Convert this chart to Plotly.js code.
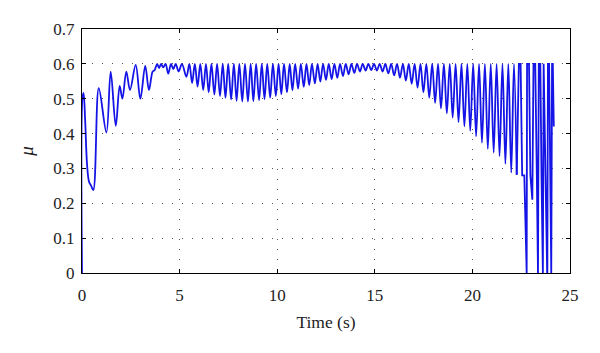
<!DOCTYPE html>
<html>
<head>
<meta charset="utf-8">
<script src="https://cdn.plot.ly/plotly-3.0.1.min.js"></script>
<style>html,body{margin:0;padding:0;background:#fff;}#chart{width:600px;height:353px;}</style>
</head>
<body>
<div id="chart"></div>
<script>
// Start-up transient (s, mu)
var earlyT = [0, 0.02, 0.08, 0.16, 0.26, 0.36, 0.47, 0.58, 0.86, 1.25, 1.47, 1.73, 1.93, 2.07, 2.27, 2.46, 2.75, 2.99, 3.24, 3.43, 3.62, 3.72, 3.85, 3.95, 4.05, 4.16, 4.28, 4.42, 4.56, 4.68, 4.80, 4.95, 5.12];
var earlyMu = [0, 0.50, 0.517, 0.44, 0.31, 0.262, 0.25, 0.238, 0.53, 0.403, 0.578, 0.422, 0.537, 0.50, 0.578, 0.525, 0.597, 0.50, 0.594, 0.525, 0.578, 0.582, 0.60, 0.588, 0.60, 0.59, 0.60, 0.572, 0.60, 0.585, 0.60, 0.578, 0.60];

// Sustained oscillation: alternating troughs and saturated peaks
var oscT = [5.35, 5.50, 5.64, 5.78, 5.92, 6.06, 6.21, 6.35, 6.49, 6.63, 6.78, 6.92, 7.07, 7.21, 7.35, 7.49, 7.64, 7.78, 7.92, 8.06,
  8.21, 8.35, 8.50, 8.64, 8.78, 8.92, 9.07, 9.21, 9.35, 9.49, 9.64, 9.78, 9.93, 10.07, 10.21, 10.35, 10.50, 10.64, 10.78, 10.92,
  11.07, 11.21, 11.36, 11.50, 11.64, 11.78, 11.93, 12.07, 12.21, 12.35, 12.50, 12.64, 12.79, 12.93, 13.08, 13.22, 13.37, 13.51, 13.66, 13.80,
  13.95, 14.09, 14.24, 14.38, 14.53, 14.67, 14.82, 14.96, 15.11, 15.25, 15.40, 15.54, 15.69, 15.84, 15.99, 16.14, 16.29, 16.44, 16.59, 16.74,
  16.89, 17.04, 17.19, 17.34, 17.49, 17.64, 17.79, 17.94, 18.09, 18.24, 18.39, 18.54, 18.69, 18.84, 18.99, 19.14, 19.29, 19.44, 19.59, 19.74,
  19.89, 20.04, 20.19, 20.34, 20.49, 20.64, 20.79, 20.94, 21.09, 21.24, 21.39, 21.54, 21.69, 21.84, 21.99, 22.13, 22.27];
var oscMu = [0.563, 0.60, 0.545, 0.60, 0.535, 0.60, 0.525, 0.60, 0.518, 0.60, 0.512, 0.60, 0.508, 0.60, 0.503, 0.60, 0.498, 0.60, 0.494, 0.60,
  0.492, 0.60, 0.492, 0.60, 0.493, 0.60, 0.496, 0.60, 0.499, 0.60, 0.503, 0.60, 0.508, 0.60, 0.513, 0.60, 0.518, 0.60, 0.524, 0.60,
  0.529, 0.60, 0.534, 0.60, 0.539, 0.60, 0.544, 0.60, 0.549, 0.60, 0.554, 0.60, 0.556, 0.60, 0.560, 0.60, 0.565, 0.60, 0.570, 0.60,
  0.574, 0.60, 0.578, 0.60, 0.581, 0.60, 0.582, 0.60, 0.581, 0.60, 0.578, 0.60, 0.573, 0.60, 0.567, 0.60, 0.560, 0.60, 0.552, 0.60,
  0.543, 0.60, 0.532, 0.60, 0.518, 0.60, 0.503, 0.60, 0.488, 0.60, 0.472, 0.60, 0.458, 0.60, 0.446, 0.60, 0.433, 0.60, 0.421, 0.60,
  0.408, 0.60, 0.392, 0.60, 0.374, 0.60, 0.356, 0.60, 0.345, 0.60, 0.335, 0.60, 0.313, 0.60, 0.288, 0.60, 0.282];

// Irregular final phase
var chaosT = [22.27, 22.38, 22.47, 22.55, 22.66, 22.75, 22.78, 22.80, 22.90, 22.97, 23.07, 23.13, 23.22, 23.30, 23.35, 23.36, 23.40, 23.48, 23.54, 23.60, 23.61, 23.65, 23.73, 23.83, 23.84, 23.87, 23.93, 23.97, 24.03, 24.04, 24.08, 24.12, 24.17];
var chaosMu = [0.282, 0.60, 0.60, 0.28, 0.28, 0.0, 0.0, 0.60, 0.60, 0.28, 0.21, 0.60, 0.60, 0.28, 0.0, 0.0, 0.60, 0.60, 0.28, 0.0, 0.0, 0.60, 0.28, 0.0, 0.0, 0.60, 0.60, 0.28, 0.0, 0.0, 0.60, 0.60, 0.42];

var xTicks = [0, 5, 10, 15, 20, 25];
var yTicks = [0, 0.1, 0.2, 0.3, 0.4, 0.5, 0.6, 0.7];

var lineColor = '#1414e6';
var traces = [
  {x: earlyT.concat(oscT), y: earlyMu.concat(oscMu), type: 'scatter', mode: 'lines',
   line: {color: lineColor, width: 1.8, shape: 'spline', smoothing: 1}, hoverinfo: 'skip'},
  {x: chaosT, y: chaosMu, type: 'scatter', mode: 'lines',
   line: {color: lineColor, width: 1.8}, hoverinfo: 'skip'}
];

var fam = 'Liberation Serif, Times New Roman, serif';
var font = {family: fam, size: 17, color: '#222'};
var layout = {
  width: 600, height: 353,
  margin: {l: 82, r: 30, t: 29, b: 80},
  paper_bgcolor: '#fff', plot_bgcolor: '#fff',
  showlegend: false,
  font: font,
  xaxis: {
    range: [0, 25], tickvals: xTicks, ticktext: xTicks.map(String),
    ticks: 'inside', ticklen: 4, tickcolor: '#000', ticklabelstandoff: 7,
    showline: true, linecolor: '#000', linewidth: 1, mirror: 'ticks',
    showgrid: true, gridcolor: '#555', gridwidth: 1, griddash: '1px,9px',
    zeroline: false, tickfont: font,
    title: {text: 'Time (s)', font: {family: fam, size: 17.5, color: '#222'}, standoff: 11}
  },
  yaxis: {
    range: [0, 0.7], tickvals: yTicks, ticktext: yTicks.map(String),
    ticks: 'inside', ticklen: 4, tickcolor: '#000', ticklabelstandoff: 3,
    showline: true, linecolor: '#000', linewidth: 1, mirror: 'ticks',
    showgrid: true, gridcolor: '#555', gridwidth: 1, griddash: '1px,9px',
    zeroline: false, tickfont: font,
    title: {text: '<i>μ</i>', font: {family: fam, size: 19, color: '#222'}, standoff: 14}
  }
};

Plotly.newPlot('chart', traces, layout, {staticPlot: true, displayModeBar: false});
</script>
</body>
</html>
